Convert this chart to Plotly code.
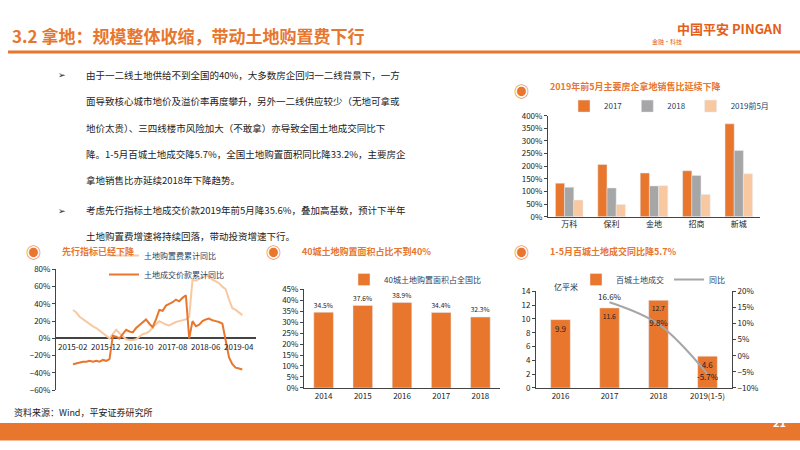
import plotly.graph_objs as go

OR = '#E8762D'
GR = '#A6A6A6'
LT = '#F8C9A0'
FONT = 'Noto Sans CJK SC'

# 2019年前5月主要房企拿地销售比
firms = ['万科', '保利', '金地', '招商', '新城']
r2017 = [1.33, 2.07, 1.73, 1.82, 3.68]
r2018 = [1.17, 1.14, 1.22, 1.63, 2.62]
r2019 = [0.66, 0.48, 1.23, 0.88, 1.70]

# 先行指标
months = ['%d-%02d' % (y, m) for y in range(2015, 2020) for m in range(1, 13)]
months = months[1:53]  # 2015-02 .. 2019-05
fee = [33, 30, 25, 22, 19, 16, 14, 12, 9, 6, 3, 0, 5, 10, 6, 2, -1, -2, -2, -1, 2, 5, 6, 8,
       13, 17, 20, 18, 16, 15, 17, 19, 20, 21, 22, 25, 68, 67, 69, 71, 73, 72, 68, 66, 64, 60,
       57, 45, 35, 33, 30, 27]
price = [-30, -29, -28, -27, -27, -26, -27, -26, -27, -25, -26, -24, 3, 2, 0, 5, 10, 8, 7, 12,
         15, 18, 22, 17, 13, 22, 33, 32, 38, 40, 42, 45, 43, 47, 50, 0, 20, 14, 16, 20, 22, 23,
         21, 20, 19, 17, -5, -22, -30, -34, -35, -36]

# 40城土地购置面积占比
yrs = ['2014', '2015', '2016', '2017', '2018']
share = [34.5, 37.6, 38.9, 34.4, 32.3]

# 百城土地成交
yrs2 = ['2016', '2017', '2018', '2019(1-5)']
area = [9.9, 11.6, 12.7, 4.6]
yoy = [None, 16.6, 9.8, -5.7]

fig = go.Figure()
tick = dict(size=8, color='#222', family=FONT)

fig.add_trace(go.Bar(x=firms, y=r2017, name='2017', marker_color=OR, xaxis='x', yaxis='y', legend='legend'))
fig.add_trace(go.Bar(x=firms, y=r2018, name='2018', marker_color=GR, xaxis='x', yaxis='y', legend='legend'))
fig.add_trace(go.Bar(x=firms, y=r2019, name='2019前5月', marker_color=LT, xaxis='x', yaxis='y', legend='legend'))

fig.add_trace(go.Scatter(x=months, y=fee, name='土地购置费累计同比', mode='lines', line=dict(color=LT, width=2), xaxis='x2', yaxis='y2', legend='legend2'))
fig.add_trace(go.Scatter(x=months, y=price, name='土地成交价款累计同比', mode='lines', line=dict(color=OR, width=2), xaxis='x2', yaxis='y2', legend='legend2'))

fig.add_trace(go.Bar(x=yrs, y=share, name='40城土地购置面积占全国比', marker_color=OR, width=0.5,
                     text=['%.1f%%' % v for v in share], textposition='outside', textfont=dict(size=8, color='#222'),
                     cliponaxis=False, xaxis='x3', yaxis='y3', legend='legend3'))

fig.add_trace(go.Bar(x=yrs2, y=area, name='百城土地成交', marker_color=OR, width=0.4,
                     text=['%.1f' % v for v in area], textposition='inside', insidetextanchor='end', textangle=0,
                     textfont=dict(size=8, color='#222'), xaxis='x4', yaxis='y4', legend='legend4'))
fig.add_trace(go.Scatter(x=yrs2, y=yoy, name='同比', mode='lines+text', line=dict(color=GR, width=2, shape='spline'),
                         text=['', '16.6%', '9.8%', '-5.7%'],
                         textposition=['top center', 'top center', 'middle center', 'bottom center'],
                         textfont=dict(size=8, color='#222'),
                         xaxis='x4', yaxis='y5', legend='legend4'))

ax = dict(showgrid=False, zeroline=False, showline=True, linecolor='#444', ticks='outside', ticklen=3, tickfont=tick, fixedrange=True)
fig.update_layout(
    width=800, height=450, margin=dict(l=0, r=0, t=0, b=0),
    paper_bgcolor='white', plot_bgcolor='white', font=dict(family=FONT),
    barmode='group', bargap=0.35, bargroupgap=0,
    xaxis=dict(ax, domain=[0.685, 0.95], anchor='y', ticks=''),
    yaxis=dict(ax, domain=[0.52, 0.75], anchor='x', range=[0, 4], dtick=0.5, tickformat='.0%'),
    xaxis2=dict(ax, domain=[0.07, 0.32], anchor='y2', type='category', showticklabels=False, ticks='', showline=False),
    yaxis2=dict(ax, domain=[0.125, 0.4], anchor='x2', range=[-60, 80], dtick=20, ticksuffix='%',
                zeroline=True, zerolinecolor='#444'),
    xaxis3=dict(ax, domain=[0.38, 0.625], anchor='y3', ticks=''),
    yaxis3=dict(ax, domain=[0.13, 0.355], anchor='x3', range=[0, 45], dtick=5, ticksuffix='%'),
    xaxis4=dict(ax, domain=[0.67, 0.915], anchor='y4', ticks=''),
    yaxis4=dict(ax, domain=[0.13, 0.35], anchor='x4', range=[0, 14], dtick=2),
    yaxis5=dict(ax, overlaying='y4', side='right', anchor='x4', range=[-10, 20], dtick=5, ticksuffix='%'),
    legend=dict(orientation='h', x=0.705, y=0.805, font=dict(size=8), bgcolor='rgba(0,0,0,0)'),
    legend2=dict(x=0.13, y=0.41, font=dict(size=8), bgcolor='rgba(0,0,0,0)', tracegroupgap=0),
    legend3=dict(orientation='h', x=0.43, y=0.41, font=dict(size=8), bgcolor='rgba(0,0,0,0)'),
    legend4=dict(orientation='h', x=0.72, y=0.41, font=dict(size=8), bgcolor='rgba(0,0,0,0)'),
)

# date labels sitting on the zero line
for m in months[::10]:
    fig.add_annotation(text=m, x=m, y=-1, xref='x2', yref='y2', yanchor='top', showarrow=False,
                       font=dict(size=8, color='#222'))

# header / footer
fig.add_shape(type='line', xref='paper', yref='paper', x0=0.01, x1=1, y0=0.895, y1=0.895, line=dict(color=OR, width=3))
fig.add_annotation(text='<b>3.2 拿地：规模整体收缩，带动土地购置费下行</b>', x=0.012, y=0.965, xref='paper', yref='paper',
                   xanchor='left', showarrow=False, font=dict(size=17, color=OR))
fig.add_annotation(text='<b>中国平安 PINGAN</b>', x=0.98, y=0.975, xref='paper', yref='paper', xanchor='right',
                   showarrow=False, font=dict(size=13, color='#E2601A'))
fig.add_annotation(text='金融·科技', x=0.855, y=0.935, xref='paper', yref='paper', xanchor='right',
                   showarrow=False, font=dict(size=6, color='#E2601A'))
fig.add_shape(type='rect', xref='paper', yref='paper', x0=0, x1=1, y0=0.01, y1=0.05, fillcolor=OR, line_width=0)
fig.add_annotation(text='<b>21</b>', x=0.985, y=0.03, xref='paper', yref='paper', xanchor='right',
                   showarrow=False, font=dict(size=11, color='white'))

body = [('➢', '由于一二线土地供给不到全国的40%，大多数房企回归一二线背景下，一方', 0.843),
        ('', '面导致核心城市地价及溢价率再度攀升，另外一二线供应较少（无地可拿或', 0.783),
        ('', '地价太贵）、三四线楼市风险加大（不敢拿）亦导致全国土地成交同比下', 0.723),
        ('', '降。1-5月百城土地成交降5.7%，全国土地购置面积同比降33.2%，主要房企', 0.663),
        ('', '拿地销售比亦延续2018年下降趋势。', 0.603),
        ('➢', '考虑先行指标土地成交价款2019年前5月降35.6%，叠加高基数，预计下半年', 0.535),
        ('', '土地购置费增速将持续回落，带动投资增速下行。', 0.475)]
for b, t, y in body:
    if b:
        fig.add_annotation(text=b, x=0.07, y=y, xref='paper', yref='paper', xanchor='left', yanchor='middle',
                           showarrow=False, font=dict(size=9, color='#222'))
    fig.add_annotation(text=t, x=0.105, y=y, xref='paper', yref='paper', xanchor='left', yanchor='middle',
                       showarrow=False, font=dict(size=9.5, color='#222'))

titles = [('2019年前5月主要房企拿地销售比延续下降', 0.64, 0.835), ('先行指标已经下降', 0.03, 0.44),
          ('40城土地购置面积占比不到40%', 0.33, 0.44), ('1-5月百城土地成交同比降5.7%', 0.64, 0.44)]
for t, x, y in titles:
    fig.add_annotation(text='◉', x=x, y=y, xref='paper', yref='paper', xanchor='left', showarrow=False,
                       font=dict(size=15, color=OR))
    fig.add_annotation(text='<b>' + t + '</b>', x=x + 0.045, y=y, xref='paper', yref='paper', xanchor='left',
                       showarrow=False, font=dict(size=9, color=OR))
fig.add_annotation(text='亿平米', x=0.69, y=0.36, xref='paper', yref='paper', xanchor='left', showarrow=False,
                   font=dict(size=8, color='#222'))
fig.add_annotation(text='资料来源：Wind，平安证券研究所', x=0.015, y=0.075, xref='paper', yref='paper', xanchor='left',
                   yanchor='middle', showarrow=False, font=dict(size=9, color='#222'))

fig.write_html('out.html', config={'displayModeBar': False},
               post_script="document.body.style.margin='0';document.body.style.overflow='hidden';")
